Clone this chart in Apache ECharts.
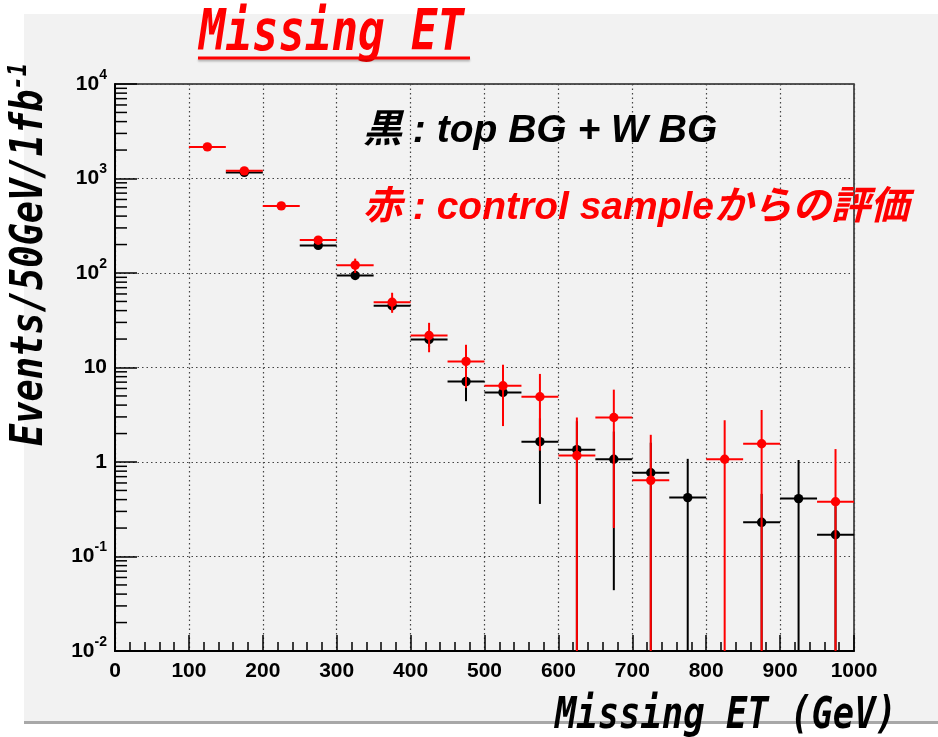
<!DOCTYPE html>
<html><head><meta charset="utf-8">
<script src="https://cdn.jsdelivr.net/npm/echarts@6/dist/echarts.min.js"></script>
<style>html,body{margin:0;padding:0;background:#fff}#c{width:938px;height:737px}</style>
</head><body><div id="c"></div>
<script>
// ---- data ----
const binCenters = [125,175,225,275,325,375,425,475,525,575,625,675,725,775,825,875,925,975];
const halfBin = 25;
// black: top BG + W BG
const blackVal = [null,1160,null,196,94,45,19.8,7.1,5.45,1.64,1.35,1.07,0.77,0.42,null,0.23,0.41,0.17];
const blackLo  = [null,1120,null,186,86,40,16.5,4.4,3.8,0.36,0,0.044,0,0,null,0,0,0];
const blackHi  = [null,1200,null,206,102,50,23,9.8,7.1,2.9,2.7,2.1,1.6,1.08,null,0.46,1.05,0.34];
// red: control sample estimate
const redVal = [2160,1205,513,223,121,49,21.8,11.6,6.4,4.9,1.17,2.96,0.64,null,1.07,1.56,null,0.38];
const redLo  = [2110,1170,490,200,100,37.9,14.5,6.1,2.4,1.32,0,0.2,0,null,0,0,null,0];
const redHi  = [2210,1240,536,246,142,61.8,29.7,17.4,10.7,8.55,2.96,5.83,1.94,null,2.77,3.55,null,1.37];
const xTickLabels = ['0','100','200','300','400','500','600','700','800','900','1000'];
const yTickLabels = ['10^-2','10^-1','1','10','10^2','10^3','10^4'];
const yMin = 0.01, yMax = 10000;
const minorMultipliers = [2,3,4,5,6,7,8,9];
const decades = [0.01,0.1,1,10,100,1000];

// ---- build ----
function pts(vals, lo, hi){
  const out = [];
  binCenters.forEach((c,i)=>{ if(vals[i]!=null) out.push([c, vals[i], lo[i], hi[i]]); });
  return out;
}
const minorY = [];
decades.forEach(d=>minorMultipliers.forEach(m=>minorY.push([0, m*d])));

function yLabel(v){
  const e = Math.round(Math.log10(v));
  const t = yTickLabels[e + 2];
  if (t == null) return '';
  if (t.indexOf('^')<0) return '{b|'+t+'}';
  const [b,s] = t.split('^');
  return '{b|'+b+'}{s|'+s+'}';
}
function xLabel(v){
  const i = Math.round(v/100);
  return xTickLabels[i] != null ? xTickLabels[i] : '';
}

function errRender(color){
  return function(params, api){
    const x = api.value(0), v = api.value(1), lo = api.value(2), hi = api.value(3);
    const c = api.coord([x, v]);
    const xl = api.coord([x-halfBin, v])[0], xr = api.coord([x+halfBin, v])[0];
    const yl = api.coord([x, Math.max(lo, yMin*0.5)])[1];
    const yh = api.coord([x, hi])[1];
    const st = {stroke: color, lineWidth: 2};
    return {type:'group', children:[
      {type:'line', shape:{x1:xl,y1:c[1],x2:xr,y2:c[1]}, style:st},
      {type:'line', shape:{x1:c[0],y1:yl,x2:c[0],y2:yh}, style:st},
      {type:'circle', shape:{cx:c[0],cy:c[1],r:4.7}, style:{fill:color}}
    ]};
  };
}

const chart = echarts.init(document.getElementById('c'));
const mono = '"DejaVu Sans Mono", monospace';
chart.setOption({
  backgroundColor: '#f2f2f2',
  animation: false,
  grid: {left:115, top:84, width:739, height:567, show:true, borderColor:'#222', borderWidth:1.5, backgroundColor:'transparent'},
  xAxis: {
    type:'value', min:0, max:1000, interval:100,
    axisLine:{show:true, lineStyle:{color:'#000', width:2}},
    axisTick:{show:true, inside:true, length:16, lineStyle:{color:'#000', width:1.5}},
    minorTick:{show:true, splitNumber:5, length:9, lineStyle:{color:'#000', width:1.5}},
    splitLine:{show:true, lineStyle:{color:'#444', width:1.2, type:[1.5,3]}},
    axisLabel:{color:'#000', fontFamily:'"Liberation Sans", Arial', fontWeight:'bold', fontSize:21, margin:10, formatter:xLabel}
  },
  yAxis: {
    type:'log', logBase:10, min:yMin, max:yMax,
    axisLine:{show:true, lineStyle:{color:'#000', width:2}},
    axisTick:{show:true, inside:true, length:22, lineStyle:{color:'#000', width:1.5}},
    splitLine:{show:true, lineStyle:{color:'#444', width:1.2, type:[1.5,3]}},
    axisLabel:{margin:8, formatter: yLabel, showMinLabel:true, showMaxLabel:true,
      rich:{
        b:{color:'#000', fontFamily:'"Liberation Sans", Arial', fontWeight:'bold', fontSize:21, lineHeight:32, verticalAlign:'middle'},
        s:{color:'#000', fontFamily:'"Liberation Sans", Arial', fontWeight:'bold', fontSize:14, lineHeight:14, verticalAlign:'top'}
      }}
  },
  series: [
    {type:'custom', data:minorY, clip:true, silent:true, renderItem:function(params, api){
      const p = api.coord([0, api.value(1)]);
      return {type:'line', shape:{x1:p[0], y1:p[1], x2:p[0]+12, y2:p[1]}, style:{stroke:'#000', lineWidth:1.5}};
    }, z:3},
    {type:'custom', name:'black', data:pts(blackVal,blackLo,blackHi), clip:true, renderItem:errRender('#000'), z:4},
    {type:'custom', name:'red', data:pts(redVal,redLo,redHi), clip:true, renderItem:errRender('#ff0000'), z:5}
  ],
  graphic: [
    {type:'rect', shape:{x:0,y:0,width:24,height:737}, style:{fill:'#fff'}, z:-1, silent:true},
    {type:'rect', shape:{x:0,y:0,width:938,height:14}, style:{fill:'#fff'}, z:-1, silent:true},
    {type:'rect', shape:{x:0,y:724,width:938,height:13}, style:{fill:'#fff'}, z:-1, silent:true},
    {type:'rect', shape:{x:24,y:721,width:914,height:3}, style:{fill:'#a8a8a8'}, z:-1, silent:true},
    // title
    {type:'text', x:199, y:35, scaleY:1.28, z:10, style:{text:'Missing ET', fill:'#ff0000', font:'italic bold 44px '+mono, textAlign:'left', textVerticalAlign:'middle', shadowColor:'rgba(0,0,0,0.25)', shadowOffsetX:2, shadowOffsetY:2, shadowBlur:2}},
    {type:'rect', shape:{x:198,y:56.5,width:272,height:3}, style:{fill:'#ff0000', shadowColor:'rgba(0,0,0,0.25)', shadowOffsetY:2, shadowBlur:2}, z:10},
    // axis titles
    {type:'text', x:30, y:446, rotation:Math.PI/2, scaleY:1.2, z:10, style:{
      text:'{a|Events/50GeV/1fb}{s|-1}', textAlign:'left', textVerticalAlign:'middle',
      rich:{a:{fill:'#000', font:'italic bold 37px '+mono, lineHeight:40, verticalAlign:'middle'},
            s:{fill:'#000', font:'italic bold 22px '+mono, lineHeight:22, verticalAlign:'top'}}}},
    {type:'text', x:555, y:716, scaleY:1.25, z:10, style:{text:'Missing ET (GeV)', fill:'#000', font:'italic bold 35.5px '+mono, textAlign:'left', textVerticalAlign:'middle'}},
    // annotations
    {type:'text', x:363, y:131, z:10, style:{text:'黒 : top BG + W BG', fill:'#000', font:'italic bold 39px "Liberation Sans", "Noto Sans CJK JP", sans-serif', textAlign:'left', textVerticalAlign:'middle'}},
    {type:'text', x:363, y:208, z:10, style:{text:'赤 : control sampleからの評価', fill:'#ff0000', font:'italic bold 39px "Liberation Sans", "Noto Sans CJK JP", sans-serif', textAlign:'left', textVerticalAlign:'middle'}}
  ]
});
</script></body></html>
